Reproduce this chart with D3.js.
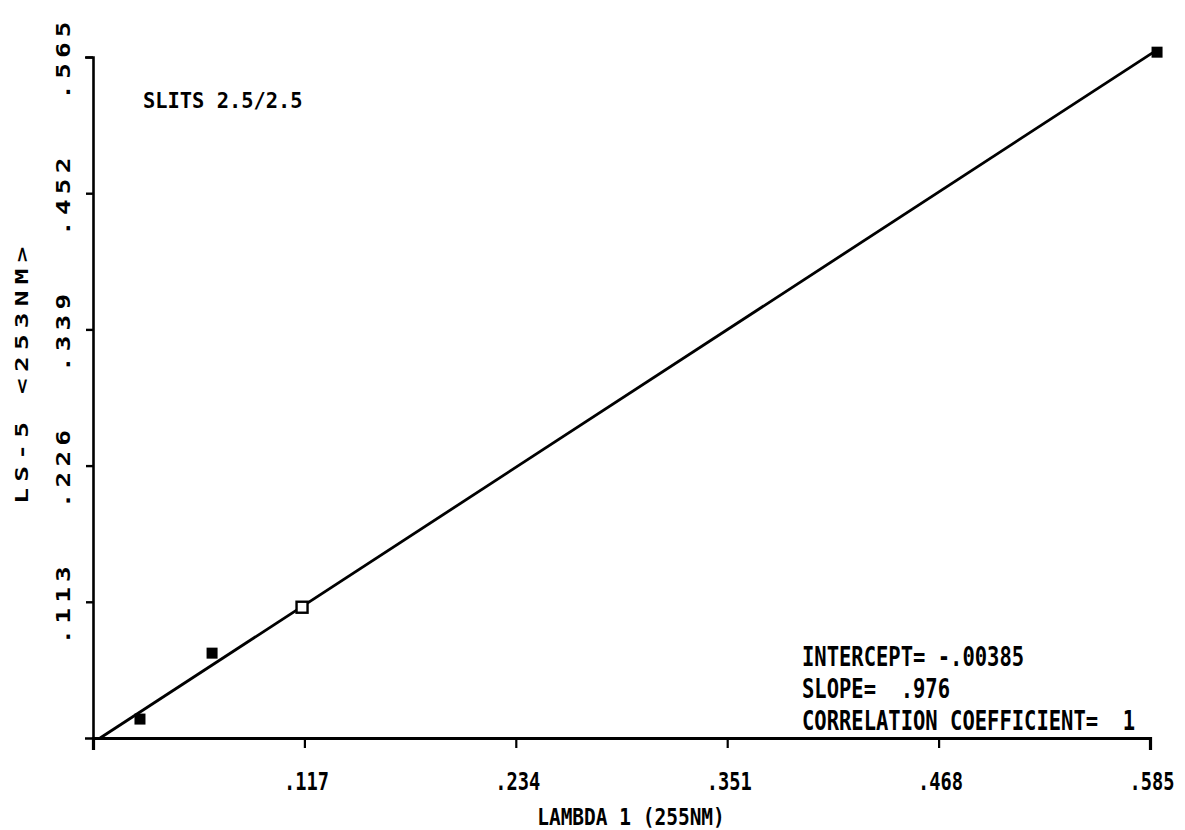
<!DOCTYPE html>
<html>
<head>
<meta charset="utf-8">
<script src="https://cdn.jsdelivr.net/npm/d3@7"></script>
<style>
  html, body { margin: 0; padding: 0; background: #fff; }
  svg text { font-family: "DejaVu Sans Mono", monospace; font-weight: bold; fill: #000; white-space: pre; }
</style>
</head>
<body>
<svg id="chart" width="1185" height="830"></svg>
<script>
// Calibration data: LAMBDA 1 (255 nm) vs LS-5 (253 nm) readings
const lambdaValues = [0.0260, 0.0659, 0.1157, 0.5889];
const ls5Values    = [0.0157, 0.0704, 0.1085, 0.5690];
const pointOpen    = [false, false, true, false];

// Axis ticks
const xTickValues = [0.117, 0.234, 0.351, 0.468, 0.585];
const xTickLabels = [".117", ".234", ".351", ".468", ".585"];
const yTickValues = [0.113, 0.226, 0.339, 0.452, 0.565];
const yTickLabels = [".113", ".226", ".339", ".452", ".565"];

// Least-squares fit
const fitIntercept = -0.00385;
const fitSlope = 0.976;
const fitCorrelation = 1;

const svg = d3.select("#chart");

const x = d3.scaleLinear().domain([0, 0.585]).range([93, 1150]);
const y = d3.scaleLinear().domain([0, 0.565]).range([738, 57]);

// Plotter-style lettering: narrow monospace glyphs stretched vertically
function label(parent, tx, ty, str, size, sy, anchor) {
  return parent.append("text")
    .attr("transform", `translate(${tx},${ty}) scale(1,${sy})`)
    .attr("font-size", size)
    .attr("text-anchor", anchor || "start")
    .text(str);
}

// X axis: ticks hang below the baseline
const xAxis = svg.append("g")
  .attr("transform", `translate(0,${y(0)})`)
  .call(d3.axisBottom(x).tickValues(xTickValues).tickSize(10).tickSizeOuter(12).tickFormat(""));
xAxis.select(".domain").attr("stroke", "#000").attr("stroke-width", 3.2).attr("fill", "none");
xAxis.selectAll(".tick line").attr("stroke", "#000").attr("stroke-width", 2.2);

// Y axis: ticks point to the left
const yAxis = svg.append("g")
  .attr("transform", `translate(${x(0)},0)`)
  .call(d3.axisLeft(y).tickValues(yTickValues).tickSize(7).tickSizeOuter(8).tickFormat(""));
yAxis.select(".domain").attr("stroke", "#000").attr("stroke-width", 2.6).attr("fill", "none");
yAxis.selectAll(".tick line").attr("stroke", "#000").attr("stroke-width", 2.4);

// X tick labels
const xLabels = svg.append("g");
xTickValues.forEach((v, i) => label(xLabels, x(v) + 2, 790, xTickLabels[i], 18.7, 1.32, "middle"));

// Y tick labels, rotated to read upward, wide letter pitch
svg.append("g").selectAll("text")
  .data(yTickValues)
  .join("text")
  .attr("transform", d => `translate(70,${y(d) + 1}) rotate(-90) scale(1.3,1)`)
  .attr("text-anchor", "middle")
  .attr("font-size", 20)
  .attr("letter-spacing", 4)
  .text((d, i) => yTickLabels[i]);

// Axis titles
label(svg, 631, 825, "LAMBDA 1 (255NM)", 19.5, 1.2, "middle");

svg.append("text")
  .attr("transform", "translate(28,372) rotate(-90) scale(1.45,1)")
  .attr("text-anchor", "middle")
  .attr("font-size", 18)
  .attr("letter-spacing", 4.3)
  .text("LS-5 <253NM>");

// Instrument setting note
label(svg, 143, 108, "SLITS 2.5/2.5", 20.4, 1.08);

// Regression line from the x-intercept to the last point
const xStart = -fitIntercept / fitSlope;
const xEnd = d3.max(lambdaValues);
const fitLine = d3.line().x(d => x(d)).y(d => y(fitIntercept + fitSlope * d));
svg.append("path")
  .datum([xStart, xEnd])
  .attr("d", fitLine)
  .attr("fill", "none")
  .attr("stroke", "#000")
  .attr("stroke-width", 2.8);

// Data points as squares
const sq = 11;
svg.append("g").selectAll("rect")
  .data(lambdaValues.map((v, i) => ({ x: v, y: ls5Values[i], open: pointOpen[i] })))
  .join("rect")
  .attr("x", d => x(d.x) - sq / 2)
  .attr("y", d => y(d.y) - sq / 2)
  .attr("width", sq)
  .attr("height", sq)
  .attr("fill", d => d.open ? "#fff" : "#000")
  .attr("stroke", "#000")
  .attr("stroke-width", d => d.open ? 2.4 : 0);

// Fit statistics, numbers printed without the leading zero
const noLead = v => String(Math.abs(v)).replace(/^0(?=\.)/, "");
const stats = [
  `INTERCEPT= ${fitIntercept < 0 ? "-" : ""}${noLead(fitIntercept)}`,
  `SLOPE=  ${noLead(fitSlope)}`,
  `CORRELATION COEFFICIENT=  ${fitCorrelation}`
];
const statGroup = svg.append("g");
stats.forEach((s, i) => label(statGroup, 802, 666 + i * 32, s, 20.5, 1.27));
</script>
</body>
</html>
